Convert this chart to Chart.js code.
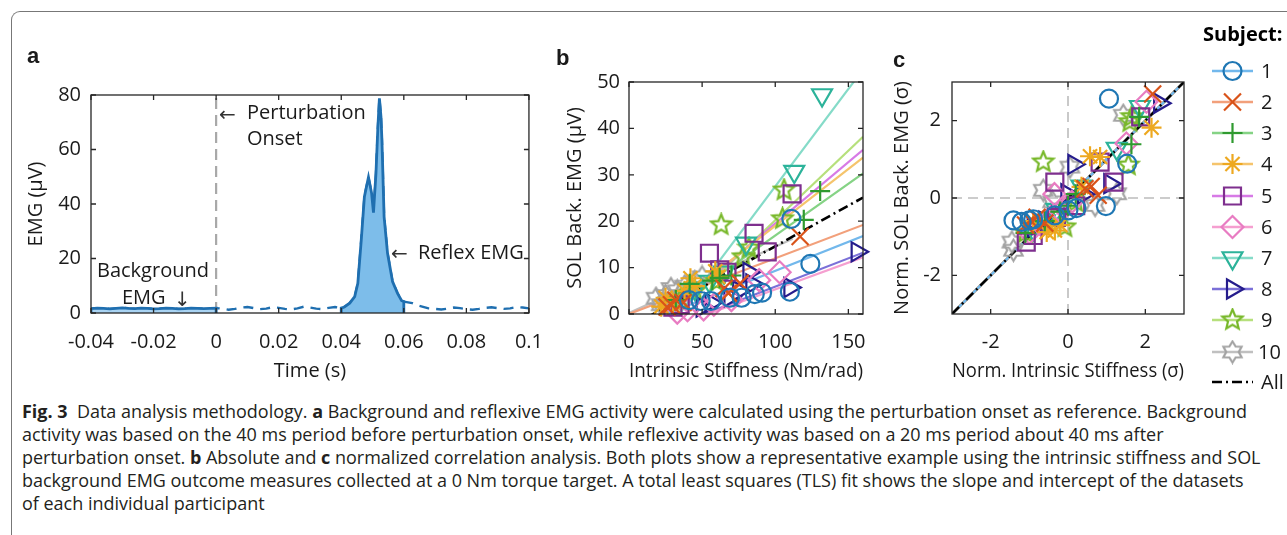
<!DOCTYPE html>
<html>
<head>
<meta charset="utf-8">
<script src="https://cdn.jsdelivr.net/npm/chart.js@4.4.1/dist/chart.umd.min.js"></script>
<style>
body { margin: 0; background: #fff; width: 1287px; height: 535px; overflow: hidden; position: relative; font-family: 'Open Sans', 'Noto Sans', sans-serif; color: #1a1a1a; }
.frame { position: absolute; left: 11px; top: 11px; width: 1400px; height: 700px; border-top: 1.5px solid #777; border-left: 1.5px solid #777; border-top-left-radius: 9px; }
canvas { position: absolute; top: 0; }
.lbl { position: absolute; font-family: 'Liberation Sans', Arial, sans-serif; font-weight: bold; font-size: 22px; line-height: 1; }
.note { position: absolute; font-size: 20px; line-height: 1; white-space: nowrap; }
.ar { position: absolute; font-family: 'DejaVu Sans', sans-serif; font-size: 20px; line-height: 1; color: #333; }
#caption { position: absolute; left: 22px; top: 400px; font-size: 17.5px; line-height: 23px; color: #231f20; transform-origin: 0 0; white-space: nowrap; }
</style>
</head>
<body>
<div class="frame"></div>
<canvas id="chartA" width="560" height="395" style="left:0px"></canvas>
<canvas id="chartB" width="340" height="395" style="left:545px"></canvas>
<canvas id="chartC" width="407" height="395" style="left:880px"></canvas>

<div class="lbl" style="left:27px;top:45px">a</div>
<div class="lbl" style="left:556px;top:47px">b</div>
<div class="lbl" style="left:893px;top:49px">c</div>

<div class="ar" style="left:219px;top:104px">&larr;</div>
<div class="note" style="left:247px;top:102px">Perturbation</div>
<div class="note" style="left:247px;top:128px">Onset</div>
<div class="ar" style="left:391px;top:243px">&larr;</div>
<div class="note" style="left:418px;top:242px">Reflex EMG</div>
<div class="note" style="left:97px;top:260px">Background</div>
<div class="note" style="left:122px;top:287px">EMG</div>
<div class="ar" style="left:174px;top:289px">&darr;</div>

<div id="caption">
<div><span><b>Fig. 3</b>&nbsp; Data analysis methodology. <b>a</b> Background and reflexive EMG activity were calculated using the perturbation onset as reference. Background</span></div>
<div><span>activity was based on the 40 ms period before perturbation onset, while reflexive activity was based on a 20 ms period about 40 ms after</span></div>
<div><span>perturbation onset. <b>b</b> Absolute and <b>c</b> normalized correlation analysis. Both plots show a representative example using the intrinsic stiffness and SOL</span></div>
<div><span>background EMG outcome measures collected at a 0 Nm torque target. A total least squares (TLS) fit shows the slope and intercept of the datasets</span></div>
<div><span>of each individual participant</span></div>
</div>

<script>
// ---- panel a: one EMG trace ----
var emgTime = [-0.04, -0.038, -0.036, -0.034, -0.032, -0.03, -0.028, -0.026, -0.024, -0.022, -0.02,
    -0.018, -0.016, -0.014, -0.012, -0.01, -0.008, -0.006, -0.004, -0.002, 0,
    0.002, 0.004, 0.006, 0.008, 0.01, 0.012, 0.014, 0.016, 0.018, 0.02,
    0.022, 0.024, 0.026, 0.028, 0.03, 0.032, 0.034, 0.036, 0.038, 0.04,
    0.041, 0.0427, 0.0443, 0.0453, 0.0464, 0.0474, 0.0487, 0.0497, 0.0503, 0.0511, 0.0517, 0.0522,
    0.0527, 0.053, 0.0537, 0.0548, 0.0564, 0.058, 0.0593, 0.06, 0.0627, 0.065, 0.0679,
    0.07, 0.072, 0.074, 0.076, 0.078, 0.08, 0.082, 0.084, 0.086, 0.088, 0.09,
    0.092, 0.094, 0.096, 0.098, 0.1];
var emgValue = [1.6, 1.8, 1.7, 1.5, 1.7, 1.9, 1.7, 1.6, 1.8, 1.7, 1.5,
    1.6, 1.8, 1.7, 1.5, 1.6, 1.8, 1.7, 1.6, 1.7, 1.8,
    1.6, 1.2, 1.5, 2.0, 2.2, 1.8, 1.4, 1.6, 2.1, 1.9,
    1.5, 1.3, 1.7, 2.3, 2.0, 1.6, 1.4, 1.9, 2.2, 1.8,
    2.2, 3.6, 6.0, 10.9, 26.8, 42.7, 49.8, 44.0, 36.8, 51.3, 68.0, 78.8,
    72.0, 63.5, 35.3, 21.9, 11.5, 7.2, 4.5, 4.2, 3.6, 2.6, 1.7,
    1.5, 1.3, 1.6, 2.0, 1.8, 1.4, 1.2, 1.5, 1.9, 2.1, 1.8,
    1.5, 1.7, 2.2, 2.0, 1.7];
var bgWindow = [-0.04, 0];
var reflexWindow = [0.04, 0.06];
var onsetTime = 0;
var aTimeTicks = [-0.04, -0.02, 0, 0.02, 0.04, 0.06, 0.08, 0.1];
var aEmgTicks = [0, 20, 40, 60, 80];

// ---- subjects ----
var subjects = ['1', '2', '3', '4', '5', '6', '7', '8', '9', '10'];
var markerColors = ['#1f77b4', '#d95319', '#2f9a2f', '#eda820', '#7e2f8e', '#e87cc2', '#2cb39a', '#251c8c', '#78b82a', '#a3a3a3'];
var lineColors = ['#72b8ec', '#f2a07b', '#85d385', '#f5c46c', '#d77ae6', '#f59fd0', '#85dbc8', '#7b70d8', '#b6e07c', '#c0c0c0'];

// ---- panel b: absolute values, one list per subject ----
var bStiffness = [
    [41, 49, 56, 69, 77, 86, 91, 110, 111, 124],
    [26, 29, 32, 37, 65, 68, 76, 117],
    [32, 41.5, 57, 62, 70, 119.5, 130.7],
    [22, 25, 30, 38, 42, 45, 59, 61],
    [30, 35, 55, 62, 67, 85.5, 94.5, 111.5],
    [33, 40, 51, 58, 70, 89, 103],
    [45, 55, 65, 80, 113, 132],
    [50, 56, 69, 75, 82, 84, 110, 156],
    [35, 45, 60, 63, 78, 82, 105, 106],
    [18.5, 22, 25, 28.7, 33, 38, 45, 50]
];
var bEmg = [
    [3, 2.8, 2.8, 3.5, 3.5, 4.3, 4.6, 4.8, 20.5, 10.8],
    [1.5, 2, 3, 2.5, 5.5, 4.5, 6.6, 16.7],
    [3, 6.5, 7.2, 7.8, 8.3, 20.3, 26.5],
    [1.6, 3.5, 2.5, 5, 7.7, 6, 9.2, 8],
    [1.5, 2, 13.1, 9.5, 9, 17.4, 13.4, 25.9],
    [0.3, 0.8, 1, 2, 3, 7.3, 9],
    [5.5, 7, 9, 15.2, 30.7, 47.2],
    [1.5, 2.4, 3.7, 5, 9, 6.5, 5.7, 13.4],
    [3, 5, 7, 19.2, 12.3, 14.2, 20.5, 26.7],
    [3.4, 2, 4, 5.5, 5, 6, 7, 8]
];
// TLS fit per subject
var fitSlope = [0.125, 0.12, 0.223, 0.245, 0.265, 0.115, 0.42, 0.122, 0.30, 0.143];
var fitIntercept = [-3.2, 0, -5.4, -5.5, -7.0, -6.2, -14.5, -6.3, -9.8, 0.2];
var fitEnd = [160, 160, 160, 160, 160, 160, 160, 160, 160, 112];
var allSlope = 0.175;
var allIntercept = -2.9;
var bStiffTicks = [0, 50, 100, 150];
var bEmgTicks = [0, 10, 20, 30, 40, 50];

// ---- panel c: normalized values ----
var cStiffness = [
    [-1.41, -1.2, -1.0, -0.9, -0.34, 0.01, 0.22, 0.98, 1.06, 1.53],
    [-1.1, -0.95, -0.8, -0.6, 0.44, 0.6, 0.78, 2.19],
    [-1.1, -0.6, -0.2, 0, 0.2, 1.64, 1.84],
    [-0.9, -0.55, -0.34, -0.2, 0.35, 0.57, 0.83, 2.16],
    [-1.08, -0.9, -0.3, -0.34, 0.2, 0.83, 1.19, 1.88],
    [-1.0, -0.7, -0.45, -0.35, -0.2, 0.1, 1.51, 2.03],
    [-0.9, -0.6, -0.3, 0.35, 1.26, 1.86],
    [-0.9, -0.6, -0.3, -0.03, 0.15, 0.4, 1.08, 2.37],
    [-1.1, -0.64, -0.3, -0.08, 0.2, 1.56, 1.6, 1.65],
    [-1.41, -1.45, -0.64, -0.4, 0.05, 0.7, 1.26, 1.43]
];
var cEmg = [
    [-0.58, -0.62, -0.58, -0.55, -0.45, -0.32, -0.26, -0.21, 2.57, 0.89],
    [-0.7, -0.6, -0.5, -0.65, 0.24, 0.3, 0.07, 2.69],
    [-0.9, -0.6, -0.35, -0.2, 0.1, 1.39, 2.1],
    [-0.6, -0.88, -0.84, -0.7, 0.29, 1.08, 1.06, 1.82],
    [-1.14, -0.97, -0.5, 0.41, -0.2, 0.93, 0.41, 2.1],
    [-0.9, -0.7, -0.5, 0.1, -0.35, -0.1, 1.41, 2.49],
    [-0.8, -0.6, -0.3, 0.3, 1.28, 2.36],
    [-0.75, -0.6, -0.45, 0.11, 0.87, 0.1, 0.37, 2.45],
    [-0.9, 0.93, -0.5, -0.75, -0.1, 0.85, 1.97, 2.1],
    [-1.35, -1.14, 0.2, -0.1, 0.8, -0.19, 0.11, 2.14]
];
var cRange = [-3, 3];
var cTicks = [-2, 0, 2];

Chart.defaults.font.family = "'Open Sans', 'Noto Sans', sans-serif";
Chart.defaults.font.size = 20;
Chart.defaults.color = '#1a1a1a';
Chart.defaults.animation = false;

// star outlines that chart.js has no built-in style for (subjects 9 and 10)
function starImage(points, inner, r, color) {
    var size = Math.ceil(r * 2 + 4);
    var c = document.createElement('canvas');
    c.width = size;
    c.height = size;
    var g = c.getContext('2d');
    g.strokeStyle = color;
    g.lineWidth = 2.2;
    g.lineJoin = 'miter';
    g.beginPath();
    for (var i = 0; i < points * 2; i++) {
        var rr = i % 2 === 0 ? r : r * inner;
        var ang = -Math.PI / 2 + i * Math.PI / points;
        var px = size / 2 + rr * Math.cos(ang);
        var py = size / 2 + rr * Math.sin(ang);
        if (i === 0) g.moveTo(px, py); else g.lineTo(px, py);
    }
    g.closePath();
    g.stroke();
    return c;
}

var markerStyle = ['circle', 'crossRot', 'cross', 'star', 'rect', 'rectRot', 'triangle', 'triangle',
    starImage(5, 0.45, 10.5, markerColors[8]), starImage(6, 0.6, 10.5, markerColors[9])];
var markerRotation = [0, 0, 0, 0, 0, 0, 180, 90, 0, 0];
var markerRadius = [9, 12, 10, 10, 12, 11, 11.5, 11, 10, 10];

function axis(tickList, min, max, titleText, titlePad, tickPad, fixedSize, isY) {
    return {
        type: 'linear',
        min: min,
        max: max,
        grid: { display: false, drawTicks: false },
        border: { display: false },
        ticks: {
            padding: tickPad,
            autoSkip: false,
            maxRotation: 0,
            color: '#1a1a1a',
            callback: function (v) { return String(v); }
        },
        afterBuildTicks: function (s) {
            s.ticks = tickList.map(function (v) { return { value: v }; });
        },
        afterFit: function (s) {
            if (isY) s.width = fixedSize; else s.height = fixedSize;
        },
        title: {
            display: true,
            text: titleText,
            color: '#1a1a1a',
            font: { size: 20 },
            padding: isY ? { top: titlePad, bottom: 0 } : { top: 0, bottom: titlePad }
        }
    };
}

// matlab-like box with inward ticks on all four sides
var boxTicks = {
    id: 'boxTicks',
    afterDraw: function (chart) {
        var ctx = chart.ctx, a = chart.chartArea;
        var xs = chart.scales.x, ys = chart.scales.y;
        ctx.save();
        ctx.strokeStyle = '#262626';
        ctx.lineWidth = 1.3;
        ctx.strokeRect(a.left, a.top, a.right - a.left, a.bottom - a.top);
        ctx.beginPath();
        xs.ticks.forEach(function (t) {
            var px = xs.getPixelForValue(t.value);
            ctx.moveTo(px, a.bottom); ctx.lineTo(px, a.bottom - 5);
            ctx.moveTo(px, a.top); ctx.lineTo(px, a.top + 5);
        });
        ys.ticks.forEach(function (t) {
            var py = ys.getPixelForValue(t.value);
            ctx.moveTo(a.left, py); ctx.lineTo(a.left + 5, py);
            ctx.moveTo(a.right, py); ctx.lineTo(a.right - 5, py);
        });
        ctx.stroke();
        ctx.restore();
    }
};

function pointsOf(xs, ys) {
    return xs.map(function (x, i) { return { x: x, y: ys[i] }; });
}

// ---------- chart a ----------
function windowPoints(win) {
    var pts = [{ x: win[0], y: 0 }];
    emgTime.forEach(function (t, i) {
        if (t >= win[0] - 1e-9 && t <= win[1] + 1e-9) pts.push({ x: t, y: emgValue[i] });
    });
    pts.push({ x: win[1], y: 0 });
    return pts;
}

new Chart(document.getElementById('chartA'), {
    type: 'scatter',
    data: {
        datasets: [
            {
                type: 'line', data: windowPoints(reflexWindow), pointRadius: 0, tension: 0,
                borderColor: '#1f6fb0', borderWidth: 2.8, fill: 'origin', backgroundColor: '#7dbdea'
            },
            {
                type: 'line', data: windowPoints(bgWindow), pointRadius: 0, tension: 0,
                borderColor: '#1f6fb0', borderWidth: 2.8, fill: 'origin', backgroundColor: '#a9d3f2'
            },
            {
                type: 'line', data: [{ x: reflexWindow[0], y: 0 }, { x: reflexWindow[1], y: 0 }], pointRadius: 0,
                borderColor: '#1f6fb0', borderWidth: 2.8
            },
            {
                type: 'line', data: [{ x: bgWindow[0], y: 0 }, { x: bgWindow[1], y: 0 }], pointRadius: 0,
                borderColor: '#1f6fb0', borderWidth: 2.8
            },
            {
                type: 'line', data: pointsOf(emgTime, emgValue), pointRadius: 0, tension: 0,
                borderColor: '#1f6fb0', borderWidth: 2.4, borderDash: [10, 7]
            },
            {
                type: 'line', data: [{ x: onsetTime, y: 0 }, { x: onsetTime, y: 80 }], pointRadius: 0,
                borderColor: '#a8a8a8', borderWidth: 2.2, borderDash: [11, 6]
            }
        ]
    },
    options: {
        responsive: false,
        devicePixelRatio: 1,
        events: [],
        layout: { padding: { left: 0, top: 95, right: 25, bottom: 0 } },
        plugins: { legend: { display: false }, tooltip: { enabled: false } },
        scales: {
            x: axis(aTimeTicks, -0.04, 0.1, 'Time (s)', 12, 17, 395 - 313, false),
            y: axis(aEmgTicks, 0, 80, 'EMG (\u03bcV)', 24, 10, 91, true)
        }
    },
    plugins: [boxTicks]
});

// ---------- chart b ----------
var bSets = [];
var drawOrder = [9, 8, 7, 6, 5, 4, 3, 2, 1, 0];
var ord = 1000;
drawOrder.forEach(function (s) {
    bSets.push({
        data: [{ x: 0, y: fitIntercept[s] }, { x: fitEnd[s], y: fitIntercept[s] + fitSlope[s] * fitEnd[s] }],
        showLine: true, pointRadius: 0, borderColor: lineColors[s], borderWidth: 2.2, order: ord--
    });
});
bSets.push({
    data: [{ x: 0, y: allIntercept }, { x: 160, y: allIntercept + allSlope * 160 }],
    showLine: true, pointRadius: 0, borderColor: '#000', borderWidth: 2.6, borderDash: [10, 4, 2, 4], order: ord--
});
drawOrder.forEach(function (s) {
    bSets.push({
        data: pointsOf(bStiffness[s], bEmg[s]), clip: false,
        pointStyle: markerStyle[s], rotation: markerRotation[s], pointRadius: markerRadius[s],
        borderColor: markerColors[s], pointBorderWidth: 2.2, backgroundColor: 'rgba(0,0,0,0)', order: ord--
    });
});

new Chart(document.getElementById('chartB'), {
    type: 'scatter',
    data: { datasets: bSets },
    options: {
        responsive: false,
        devicePixelRatio: 1,
        events: [],
        layout: { padding: { left: 0, top: 82, right: 22, bottom: 0 } },
        plugins: { legend: { display: false }, tooltip: { enabled: false } },
        scales: {
            x: axis(bStiffTicks, 0, 160, 'Intrinsic Stiffness (Nm/rad)', 12, 16, 395 - 314, false),
            y: axis(bEmgTicks, 0, 50, 'SOL Back. EMG (\u03bcV)', 18, 9, 84, true)
        }
    },
    plugins: [boxTicks]
});

// ---------- chart c ----------
var cSets = [];
ord = 1000;
cSets.push({
    data: [{ x: 0, y: cRange[0] }, { x: 0, y: cRange[1] }], showLine: true, pointRadius: 0,
    borderColor: '#bcbcbc', borderWidth: 1.6, borderDash: [10, 6], order: ord--
});
cSets.push({
    data: [{ x: cRange[0], y: 0 }, { x: cRange[1], y: 0 }], showLine: true, pointRadius: 0,
    borderColor: '#bcbcbc', borderWidth: 1.6, borderDash: [10, 6], order: ord--
});
drawOrder.forEach(function (s) {
    cSets.push({
        data: [{ x: cRange[0], y: cRange[0] }, { x: cRange[1], y: cRange[1] }],
        showLine: true, pointRadius: 0, borderColor: lineColors[s], borderWidth: 2.4, order: ord--
    });
});
cSets.push({
    data: [{ x: cRange[0], y: cRange[0] }, { x: cRange[1], y: cRange[1] }],
    showLine: true, pointRadius: 0, borderColor: '#000', borderWidth: 2.4, borderDash: [10, 4, 2, 4], order: ord--
});
drawOrder.forEach(function (s) {
    cSets.push({
        data: pointsOf(cStiffness[s], cEmg[s]), clip: false,
        pointStyle: markerStyle[s], rotation: markerRotation[s], pointRadius: markerRadius[s],
        borderColor: markerColors[s], pointBorderWidth: 2.2, backgroundColor: 'rgba(0,0,0,0)', order: ord--
    });
});

// legend with a line through each marker, drawn to the right of panel c
var subjectLegend = {
    id: 'subjectLegend',
    afterDraw: function (chart) {
        var ctx = chart.ctx;
        var x0 = 332, x1 = 373, xm = 352.5, xt = 381;
        var rowY = [71, 102, 133, 164, 196, 227, 258, 289, 320, 352, 382];
        ctx.save();
        ctx.fillStyle = '#000';
        ctx.font = "bold 20px 'Open Sans', sans-serif";
        ctx.textBaseline = 'middle';
        ctx.textAlign = 'left';
        ctx.fillText('Subject:', 323, 35);
        ctx.font = "20px 'Open Sans', sans-serif";
        subjects.forEach(function (name, s) {
            var y = rowY[s];
            ctx.strokeStyle = lineColors[s];
            ctx.lineWidth = 2.4;
            ctx.setLineDash([]);
            ctx.beginPath();
            ctx.moveTo(x0, y);
            ctx.lineTo(x1, y);
            ctx.stroke();
            ctx.strokeStyle = markerColors[s];
            ctx.fillStyle = 'rgba(0,0,0,0)';
            ctx.lineWidth = 2.2;
            Chart.helpers.drawPoint(ctx, {
                pointStyle: markerStyle[s], rotation: markerRotation[s],
                radius: markerRadius[s], borderWidth: 2.2
            }, xm, y);
            ctx.fillStyle = '#1a1a1a';
            ctx.fillText(name, s === 9 ? xt - 3 : xt, y + 1);
        });
        var ya = rowY[10];
        ctx.strokeStyle = '#000';
        ctx.lineWidth = 2.6;
        ctx.setLineDash([10, 4, 2, 4]);
        ctx.beginPath();
        ctx.moveTo(x0, ya);
        ctx.lineTo(x1, ya);
        ctx.stroke();
        ctx.setLineDash([]);
        ctx.fillStyle = '#1a1a1a';
        ctx.fillText('All', xt, ya + 1);
        ctx.restore();
    }
};

new Chart(document.getElementById('chartC'), {
    type: 'scatter',
    data: { datasets: cSets },
    options: {
        responsive: false,
        devicePixelRatio: 1,
        events: [],
        layout: { padding: { left: 0, top: 82, right: 103, bottom: 0 } },
        plugins: { legend: { display: false }, tooltip: { enabled: false } },
        scales: {
            x: axis(cTicks, cRange[0], cRange[1], 'Norm. Intrinsic Stiffness (\u03c3)', 12, 16, 395 - 314, false),
            y: axis(cTicks, cRange[0], cRange[1], 'Norm. SOL Back. EMG (\u03c3)', 10, 11, 72, true)
        }
    },
    plugins: [boxTicks, subjectLegend]
});

// squeeze the caption so its first line spans the same width as in the figure
var cap = document.getElementById('caption');
var firstLine = cap.querySelector('span');
var w = firstLine.getBoundingClientRect().width;
cap.style.transform = 'scaleX(' + (1225 / w) + ')';
</script>
</body>
</html>
